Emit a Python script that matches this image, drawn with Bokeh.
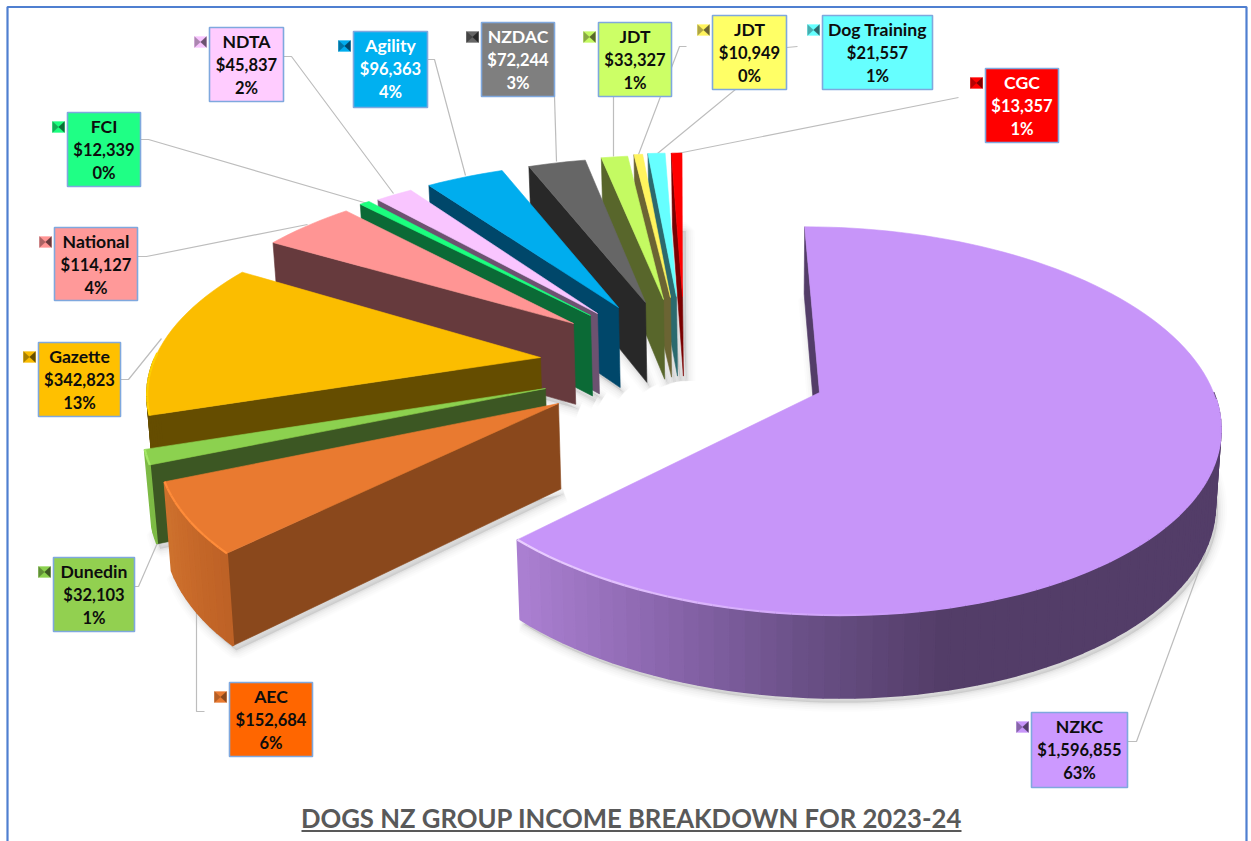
import math
from bokeh.plotting import figure
from bokeh.models import Range1d, ColumnDataSource
from bokeh.core.properties import value
from bokeh.embed import file_html
from bokeh.resources import INLINE

# ---- chart data, in pie order (clockwise from twelve o'clock) ----
names = ["NZKC", "AEC", "Dunedin", "Gazette", "National", "FCI", "NDTA", "Agility",
         "NZDAC", "JDT", "JDT", "Dog Training", "CGC"]
incomes = [1596855, 152684, 32103, 342823, 114127, 12339, 45837, 96363,
           72244, 33327, 10949, 21557, 13357]
title_text = "DOGS NZ GROUP INCOME BREAKDOWN FOR 2023-24"

# ---- styles ----
top_colors = ["#C795F9", "#E97A30", "#8CD14F", "#FBBD00", "#FF9594", "#1BFF7E", "#F9C5FF",
              "#00ADEE", "#666666", "#C4FA62", "#FFF45E", "#66FFFF", "#FF0000"]
side_colors = ["#533D68", "#8A481C", "#3C5723", "#654D00", "#663A3D", "#0B6A36", "#6C5270",
               "#00476A", "#282828", "#58662B", "#6B6433", "#2B6A6E", "#7A0000"]
box_colors = ["#CC99FF", "#FF6600", "#92D050", "#FFC000", "#FF9999", "#1FFF85", "#FFCCFF",
              "#00B0F0", "#7F7F7F", "#CCFF66", "#FFFF66", "#66FFFF", "#FF0000"]
text_colors = ["#0D0D0D"] * 7 + ["#FFFFFF", "#FFFFFF"] + ["#0D0D0D"] * 3 + ["#FFFFFF"]
rim_colors = ["#EBCFFF", "#FF8C3A", "#A5E868", "#FFD000", None, None, None, None, None, None, None, None, None]

# ---- layout ----
apex_x = [819, 558, 545, 540, 573, 590, 597, 618, 645, 663, 670, 676, 682]
apex_y = [392, 403, 388, 357, 323, 315, 313, 307, 302, 299, 297, 296, 296]
wall_h = [74, 85, 76, 84, 84, 84, 84, 84, 84, 84, 84, 84, 84]
radius_x = [0.995, 0.985, 1, 1, 1.025, 1.03, 1.02, 1.02, 1, 1, 1, 1, 1]
lean = [0, 0, 0, 0, 0, -2, -2, -4, -4, -4, -4, -4, -3]
box_l = [1031, 229, 53, 38, 54, 67, 209, 353, 481, 598, 712, 822, 985]
box_t = [712, 682, 557, 342, 227, 112, 27, 31, 22, 22, 15, 15, 68]
box_r = [1127, 312, 134, 120, 137, 140, 283, 427, 554, 671, 786, 932, 1058]
box_b = [787, 756, 631, 416, 300, 186, 101, 107, 96, 96, 89, 89, 142]
leaders = [
    [(1127, 741), (1136, 741), (1205, 552)],
    [(204, 711), (196, 711), (196, 605)],
    [(134, 586), (138, 586), (158, 540)],
    [(120, 379), (128, 379), (161, 338)],
    [(137, 256), (146, 256), (307, 224)],
    [(140, 139), (148, 139), (367, 203)],
    [(283, 56), (291, 56), (393, 193)],
    [(427, 59), (434, 59), (465, 175)],
    [(554, 96), (556, 161)],
    [(613, 96), (613, 156)],
    [(686, 46), (679, 46), (638, 154)],
    [(797, 46), (786, 47), (657, 153)],
    [(958, 97), (677, 153)],
]

# perspective of the pie plane
CX, CY, A, B, S, K = 819.0, 392.0, 396.0, 190.0, -17.0, 0.1466


def proj(u, v):
    s = 1 / (1 + K * v)
    return CX + (A * u + S * v) * s, CY - B * v * s, s


def unproj(px, py):
    dy = py - CY
    v = -dy / (B + K * dy)
    s = 1 / (1 + K * v)
    return ((px - CX) / s - S * v) / A, v


def drop(x, y, s, h):
    return x - (x - 760) * 0.012, y + h * s ** 0.7


def lerp_hex(stops, t):
    t = max(0, min(1, t))
    pos = t * (len(stops) - 1)
    i = min(int(pos), len(stops) - 2)
    f = pos - i
    a = [int(stops[i][j:j + 2], 16) for j in (1, 3, 5)]
    b = [int(stops[i + 1][j:j + 2], 16) for j in (1, 3, 5)]
    return "#%02X%02X%02X" % tuple(round(a[n] + (b[n] - a[n]) * f) for n in range(3))


total = sum(incomes)
starts, ends = [], []
acc = 0.0
for inc in incomes:
    starts.append(acc * 360)
    acc += inc / total
    ends.append(acc * 360)

p = figure(width=1251, height=841, x_range=Range1d(0, 1251), y_range=Range1d(841, 0),
           toolbar_location=None, output_backend="svg", min_border=0,
           background_fill_color="#FFFFFF", border_fill_color="#FFFFFF")
p.axis.visible = False
p.grid.visible = False
p.outline_line_color = None


def poly(xs, ys, c, alpha=1.0, lw=0.6):
    p.patch(xs, ys, fill_color=c, fill_alpha=alpha, line_color=c, line_alpha=alpha, line_width=lw)


def arc_points(i, n_step=2.0):
    a0, a1 = starts[i], ends[i]
    n = max(2, int((a1 - a0) / n_step) + 1)
    return [a0 + (a1 - a0) * j / n for j in range(n + 1)]


def point_at(i, deg):
    u0, v0 = unproj(apex_x[i], apex_y[i])
    t = math.radians(deg)
    x, y, s = proj(u0 + radius_x[i] * math.sin(t), v0 + math.cos(t))
    return x + lean[i] * math.cos(t), y, s


def apex(i):
    u0, v0 = unproj(apex_x[i], apex_y[i])
    return proj(u0, v0)


# soft ground shadows
for i in range(len(incomes)):
    ax, ay, asv = apex(i)
    bx, by = drop(ax, ay, asv, wall_h[i])
    xs, ys = [bx + 3], [by + 5]
    for d in arc_points(i):
        x, y, s = point_at(i, d)
        x2, y2 = drop(x, y, s, wall_h[i])
        xs.append(x2 + 3)
        ys.append(y2 + 5)
    for w, al in ((18, 0.012), (14, 0.016), (10, 0.02), (6, 0.025), (3, 0.03)):
        p.patch(xs, ys, fill_color="#000000", fill_alpha=al, line_color="#000000",
                line_alpha=al, line_width=w)

# leader lines
for pts in leaders:
    p.line([q[0] for q in pts], [q[1] for q in pts], line_color="#BDBDBD", line_width=1.2)

# slices, farthest first; NZKC (drawn last) sits on top
for i in list(range(len(incomes) - 1, -1, -1)):
    ax, ay, asv = apex(i)
    abx, aby = drop(ax, ay, asv, wall_h[i])
    sx, sy, ss = point_at(i, starts[i])
    sbx, sby = drop(sx, sy, ss, wall_h[i])
    poly([ax, sx, sbx, abx], [ay, sy, sby, aby], side_colors[i])
    degs = arc_points(i)
    # outer wall, front part only
    for d0, d1 in zip(degs[:-1], degs[1:]):
        mid = math.radians((d0 + d1) / 2)
        if math.cos(mid) > 0:
            continue
        x0, y0, s0 = point_at(i, d0)
        x1, y1, s1 = point_at(i, d1)
        bx0, by0 = drop(x0, y0, s0, wall_h[i])
        bx1, by1 = drop(x1, y1, s1, wall_h[i])
        if i == 0:
            c = lerp_hex(["#533D68", "#533D68", "#533D68", "#6A5087", "#8A66AD", "#AB80D2"],
                         1 - ((x0 + x1) / 2 - 518) / (1225 - 518))
        elif i == 1:
            c = lerp_hex(["#BE6226", "#C86A2A", "#CE722E"], (d0 - starts[i]) / (ends[i] - starts[i]))
        elif i == 2:
            c = "#7DBA45"
        else:
            c = side_colors[i]
        poly([x0, x1, bx1, bx0], [y0, y1, by1, by0], c, lw=2)
    # top face
    xs, ys = [ax], [ay]
    for d in degs:
        x, y, s = point_at(i, d)
        xs.append(x)
        ys.append(y)
    poly(xs, ys, top_colors[i])
    # lit rim of the front slices
    if rim_colors[i]:
        rx, ry = xs[1:], ys[1:]
        for j in range(len(rx) - 1):
            if math.cos(math.radians(degs[j])) > 0:
                continue
            if i == 0:
                f = min(1, max(0, (rx[j] - 518) / 420))
                col = lerp_hex([rim_colors[i], top_colors[i]], f)
            else:
                col = rim_colors[i]
            p.line(rx[j:j + 2], ry[j:j + 2], line_color=col, line_width=2.2)

# label boxes
p.quad(left=box_l, right=box_r, top=box_t, bottom=box_b, fill_color=box_colors,
       line_color="#7FA8DE", line_width=1.6)

# legend keys
for i in range(len(incomes)):
    kl = box_l[i] - 15
    kt = box_t[i] + 9
    kr, kb = kl + 12, kt + 11
    mx, my = (kl + kr) / 2, (kt + kb) / 2
    poly([kl, kr, kr, kl], [kt, kt, kb, kb], top_colors[i], lw=0.3)
    poly([kl, mx, kl], [kt, my, kb], lerp_hex([side_colors[i], top_colors[i]], 0.45), lw=0.2)
    poly([kr, mx, kr], [kt, my, kb], side_colors[i], lw=0.2)

# label texts: the name line is set a little larger than the value lines
for off, size, getter in (
    (14, "17.6px", lambda i: names[i]),
    (37.5, "16.5px", lambda i: "${:,}".format(incomes[i])),
    (60, "16.5px", lambda i: "{:.0f}%".format(100 * incomes[i] / total)),
):
    n = len(incomes)
    src = ColumnDataSource(dict(
        x=[(box_l[i] + box_r[i]) / 2 for i in range(n)],
        y=[box_t[i] + off for i in range(n)],
        t=[getter(i) for i in range(n)],
        c=text_colors,
    ))
    p.text("x", "y", text="t", source=src, text_color="c", text_font=value("Lato"),
           text_font_style="bold", text_font_size=size, text_align="center", text_baseline="middle")

# title
p.text([631], [817], text=[title_text], text_color="#595959", text_font=value("Lato"),
       text_font_style="bold", text_font_size="25.7px", text_align="center", text_baseline="middle")
p.line([301, 961], [830.5, 830.5], line_color="#595959", line_width=2.2)

# frame
p.line([7, 7, 1246, 1246], [841, 6.5, 6.5, 841], line_color="#4F7FD0", line_width=2.2)

open("out.html", "w").write(file_html(p, INLINE))
